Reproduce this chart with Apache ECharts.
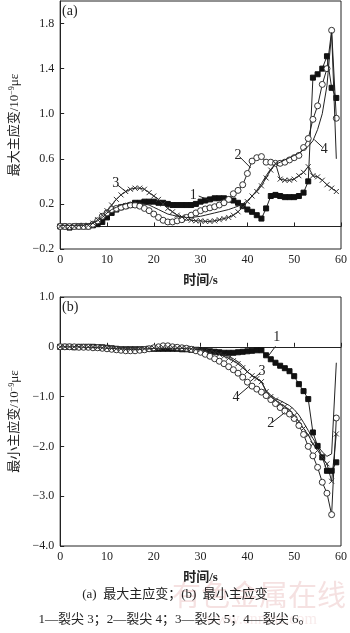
<!DOCTYPE html>
<html>
<head>
<meta charset="utf-8">
<script src="https://cdn.jsdelivr.net/npm/echarts@6/dist/echarts.min.js"></script>
<style>
html, body { margin: 0; padding: 0; background: #fff; }
#chart { width: 350px; height: 633px; }
</style>
</head>
<body>
<div id="chart"></div>
<script>
// 时间 (s)
const timeS = [0, 1, 2, 3, 4, 5, 6, 7, 8, 9, 10, 11, 12, 13, 14, 15, 16, 17, 18, 19,
    20, 21, 22, 23, 24, 25, 26, 27, 28, 29, 30, 31, 32, 33, 34, 35, 36, 37, 38, 39,
    40, 41, 42, 43, 44, 45, 46, 47, 48, 49, 50, 51, 52, 53, 54, 55, 56, 57, 58, 59]

// (a) 最大主应变, 1—裂尖3  2—裂尖4  3—裂尖5  4—裂尖6
const maxTip3 = [0.00, 0.00, -0.01, 0.00, 0.00, 0.00, 0.00, 0.01, 0.02, 0.04,
    0.08, 0.12, 0.15, 0.17, 0.18, 0.19, 0.21, 0.21, 0.22, 0.22,
    0.22, 0.21, 0.21, 0.20, 0.19, 0.19, 0.19, 0.19, 0.19, 0.20,
    0.22, 0.23, 0.24, 0.25, 0.25, 0.25, 0.24, 0.23, 0.21, 0.18,
    0.15, 0.13, 0.10, 0.07, 0.16, 0.27, 0.28, 0.27, 0.26, 0.26,
    0.26, 0.27, 0.30, 0.40, 1.32, 1.35, 1.40, 1.51, 1.23, 1.14]
const maxTip4 = [0.00, 0.00, 0.00, 0.00, 0.00, 0.00, 0.00, 0.02, 0.05, 0.09,
    0.12, 0.15, 0.16, 0.17, 0.18, 0.19, 0.19, 0.18, 0.16, 0.14,
    0.11, 0.08, 0.055, 0.04, 0.04, 0.05, 0.06, 0.08, 0.10, 0.12,
    0.14, 0.155, 0.165, 0.175, 0.19, 0.21, 0.24, 0.29, 0.32, 0.37,
    0.47, 0.58, 0.61, 0.62, 0.57, 0.57, 0.56, 0.56, 0.57, 0.59,
    0.61, 0.63, 0.70, 0.78, 0.95, 1.07, 1.26, 1.40, 1.74, 0.96]
const maxTip5 = [0.00, 0.00, 0.00, 0.00, 0.01, 0.01, 0.01, 0.03, 0.06, 0.10,
    0.14, 0.19, 0.24, 0.28, 0.31, 0.33, 0.34, 0.34, 0.33, 0.30,
    0.27, 0.24, 0.20, 0.16, 0.13, 0.10, 0.085, 0.07, 0.055, 0.05,
    0.05, 0.045, 0.045, 0.05, 0.06, 0.07, 0.08, 0.10, 0.13, 0.17,
    0.22, 0.27, 0.31, 0.36, 0.43, 0.50, 0.56, 0.42, 0.41, 0.41,
    0.42, 0.45, 0.48, 0.53, 0.45, 0.44, 0.41, 0.37, 0.34, 0.31]
const maxTip6 = [0.01, 0.01, 0.01, 0.01, 0.01, 0.01, 0.02, 0.03, 0.05, 0.08,
    0.12, 0.15, 0.17, 0.19, 0.20, 0.21, 0.21, 0.21, 0.20, 0.19,
    0.17, 0.15, 0.13, 0.11, 0.10, 0.09, 0.085, 0.08, 0.08, 0.085,
    0.09, 0.10, 0.11, 0.12, 0.13, 0.14, 0.15, 0.165, 0.18, 0.20,
    0.23, 0.27, 0.32, 0.38, 0.45, 0.51, 0.55, 0.57, 0.59, 0.61,
    0.63, 0.65, 0.68, 0.71, 0.76, 0.86, 1.00, 1.25, 1.72, 0.60]

// (b) 最小主应变
const minTip3 = [0.00, 0.00, 0.00, -0.01, 0.00, 0.00, 0.00, 0.00, -0.01, -0.01,
    -0.02, -0.03, -0.04, -0.05, -0.05, -0.05, -0.05, -0.05, -0.05, -0.04,
    -0.04, -0.04, -0.04, -0.04, -0.04, -0.04, -0.05, -0.05, -0.06, -0.06,
    -0.07, -0.08, -0.09, -0.10, -0.11, -0.12, -0.12, -0.12, -0.11, -0.10,
    -0.09, -0.08, -0.07, -0.07, -0.17, -0.25, -0.32, -0.38, -0.43, -0.49,
    -0.59, -0.75, -0.89, -1.05, -1.72, -1.99, -2.22, -2.49, -2.49, -2.32]
const minTip4 = [0.00, 0.00, 0.00, 0.00, -0.01, -0.01, -0.01, -0.02, -0.02, -0.03,
    -0.04, -0.05, -0.06, -0.07, -0.08, -0.08, -0.08, -0.07, -0.06, -0.04,
    -0.02, 0.00, 0.02, 0.02, 0.00, -0.01, -0.02, -0.03, -0.05, -0.08,
    -0.11, -0.15, -0.19, -0.24, -0.29, -0.34, -0.40, -0.46, -0.53, -0.61,
    -0.71, -0.79, -0.85, -0.91, -0.98, -1.06, -1.14, -1.22, -1.29, -1.35,
    -1.44, -1.58, -1.76, -2.00, -2.19, -2.42, -2.72, -2.94, -3.37, -1.43]
const minTip5 = [0.00, 0.00, 0.00, 0.00, 0.00, 0.00, 0.00, -0.01, -0.01, -0.02,
    -0.02, -0.03, -0.04, -0.04, -0.05, -0.05, -0.05, -0.04, -0.04, -0.03,
    -0.02, -0.02, -0.01, -0.01, -0.01, -0.02, -0.02, -0.03, -0.04, -0.05,
    -0.06, -0.08, -0.10, -0.12, -0.15, -0.19, -0.23, -0.28, -0.34, -0.42,
    -0.50, -0.58, -0.64, -0.70, -0.90, -1.00, -1.07, -1.14, -1.20, -1.27,
    -1.38, -1.50, -1.64, -1.77, -1.95, -2.08, -2.22, -2.35, -2.70, -1.75]
const minTip6 = [0.00, 0.00, 0.00, 0.00, 0.00, -0.01, -0.01, -0.01, -0.02, -0.02,
    -0.03, -0.03, -0.04, -0.04, -0.05, -0.05, -0.05, -0.05, -0.04, -0.04,
    -0.03, -0.03, -0.03, -0.03, -0.03, -0.03, -0.03, -0.04, -0.04, -0.05,
    -0.06, -0.07, -0.09, -0.11, -0.13, -0.16, -0.19, -0.24, -0.30, -0.38,
    -0.50, -0.58, -0.63, -0.70, -0.88, -0.97, -1.04, -1.08, -1.13, -1.18,
    -1.26, -1.37, -1.52, -1.68, -1.84, -1.99, -2.11, -2.20, -2.15, -0.32]

// 坐标轴刻度
const timeTicks = [0, 10, 20, 30, 40, 50, 60]
const maxTicks = [-0.2, 0.2, 0.6, 1.0, 1.4, 1.8]
const minTicks = [1.0, 0, -1.0, -2.0, -3.0, -4.0]

const serif = '"Liberation Serif", "Times New Roman", "Noto Sans CJK SC", serif'
const ink = '#222'

const pairs = (vals) => vals.map((v, i) => [timeS[i], v])

const fmtNum = (v) => {
    if (Math.abs(v) < 1e-9) return '0'
    const s = v.toFixed(1)
    return s.replace('-', '\u2212')
}

// 曲线编号的引线 (数据坐标)
const leader = (from, to, text) => ({
    silent: true,
    symbol: ['none', 'none'],
    lineStyle: { color: ink, width: 1, type: 'solid' },
    label: {
        show: true,
        position: 'start',
        distance: 2,
        formatter: text,
        color: ink,
        fontFamily: serif,
        fontSize: 14
    },
    data: [[{ coord: from }, { coord: to }]]
})

const styles = {
    square: { symbol: 'rect', symbolSize: 5, itemStyle: { color: '#111', borderColor: '#111' } },
    circle: { symbol: 'circle', symbolSize: 6, itemStyle: { color: '#fff', borderColor: '#333', borderWidth: 1 } },
    cross: { symbol: 'path://M0,0L10,10M10,0L0,10', symbolSize: 5, itemStyle: { color: 'none', borderColor: '#333', borderWidth: 1 } },
    plain: { symbol: 'none', showSymbol: false }
}

const mkSeries = (idx, vals, kind, mark) => Object.assign({
    type: 'line',
    xAxisIndex: idx,
    yAxisIndex: idx,
    data: pairs(vals),
    lineStyle: { color: ink, width: 1 },
    z: kind === 'plain' ? 3 : 2,
    markLine: mark
}, styles[kind])

const xAxisCommon = (idx) => ({
    gridIndex: idx,
    type: 'value',
    min: timeTicks[0],
    max: timeTicks[timeTicks.length - 1],
    interval: 10,
    name: '时间/s',
    nameLocation: 'middle',
    nameGap: 25,
    nameTextStyle: { fontFamily: serif, fontSize: 13, color: ink, fontWeight: 'bold' },
    axisLine: { lineStyle: { color: ink } },
    axisTick: { inside: true, length: 4, lineStyle: { color: ink } },
    axisLabel: { fontFamily: serif, fontSize: 12, color: ink, margin: 5 },
    splitLine: { show: false }
})

const yAxisCommon = (idx, ticks, name) => ({
    gridIndex: idx,
    type: 'value',
    min: Math.min(...ticks),
    max: idx === 0 ? 2.0 : Math.max(...ticks),
    interval: idx === 0 ? 0.4 : 1.0,
    name: name,
    nameLocation: 'middle',
    nameRotate: 90,
    nameGap: 38,
    nameTextStyle: {
        fontFamily: serif, fontSize: 13, color: ink,
        rich: { sup: { fontFamily: serif, fontSize: 8, color: ink, verticalAlign: 'top', padding: [0, 0, 6, 0] } }
    },
    axisLine: { lineStyle: { color: ink } },
    axisTick: { inside: true, length: 4, lineStyle: { color: ink } },
    axisLabel: {
        fontFamily: serif, fontSize: 12, color: ink, margin: 6,
        showMaxLabel: idx !== 0,
        formatter: (v) => ticks.some(t => Math.abs(t - v) < 1e-6) ? fmtNum(v) : ''
    },
    splitLine: { show: false }
})

const chart = echarts.init(document.getElementById('chart'))
chart.setOption({
    animation: false,
    backgroundColor: '#fff',
    grid: [
        { left: 57, right: 6, top: 1, height: 248, show: true, borderColor: ink, borderWidth: 1 },
        { left: 57, right: 6, top: 297, height: 249, show: true, borderColor: ink, borderWidth: 1 }
    ],
    xAxis: [xAxisCommon(0), xAxisCommon(1)],
    yAxis: [
        yAxisCommon(0, maxTicks, '最大主应变/10{sup|\u22129}με'),
        yAxisCommon(1, minTicks, '最小主应变/10{sup|\u22129}με')
    ],
    series: [
        mkSeries(0, maxTip3, 'square', leader([29.6, 0.27], [32.0, 0.23], '1')),
        mkSeries(0, maxTip4, 'circle', leader([38.3, 0.62], [40.7, 0.52], '2')),
        mkSeries(0, maxTip5, 'cross', leader([12.2, 0.37], [14.3, 0.30], '3')),
        mkSeries(0, maxTip6, 'plain', leader([56.1, 0.70], [54.3, 0.77], '4')),
        mkSeries(1, minTip3, 'square', leader([46.0, 0.01], [44.2, -0.22], '1')),
        mkSeries(1, minTip4, 'circle', leader([45.3, -1.52], [48.0, -1.32], '2')),
        mkSeries(1, minTip5, 'cross', leader([42.8, -0.52], [40.7, -0.69], '3')),
        mkSeries(1, minTip6, 'plain', leader([37.9, -0.99], [40.4, -0.79], '4'))
    ],
    graphic: [
        { type: 'text', left: 62, top: 4, style: { text: '(a)', font: '14px ' + serif, fill: ink } },
        { type: 'text', left: 62, top: 300, style: { text: '(b)', font: '14px ' + serif, fill: ink } },
        // 水印
        { type: 'text', left: 172, top: 580, z: 0, style: { text: '有色金属在线', font: '29px "Noto Sans CJK SC"', fill: 'rgba(210, 120, 120, 0.22)' } },
        { type: 'text', left: 205, top: 612, z: 0, style: { text: 'www.cnnmc.com', font: '16px ' + serif, fill: 'rgba(210, 140, 140, 0.18)' } },
        // 图注
        { type: 'text', left: 'center', top: 588, z: 10, style: { text: '(a)  最大主应变；(b)  最小主应变', font: '13px ' + serif, fill: ink } },
        { type: 'text', left: 'center', top: 613, z: 10, style: { text: '1—裂尖 3；2—裂尖 4；3—裂尖 5；4—裂尖 6。', font: '13px ' + serif, fill: ink } }
    ]
})
</script>
</body>
</html>
